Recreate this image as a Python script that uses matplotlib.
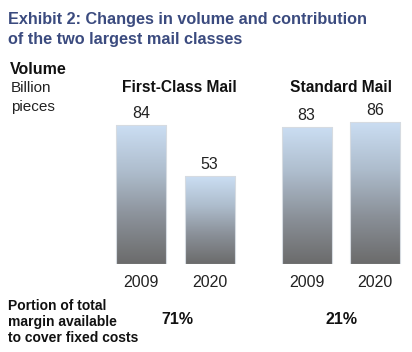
import matplotlib
matplotlib.use("Agg")
import matplotlib.pyplot as plt
import numpy as np
from matplotlib.colors import LinearSegmentedColormap

plt.rcParams['font.family'] = ['Liberation Sans', 'DejaVu Sans']

groups = ["First-Class Mail", "Standard Mail"]
years = ["2009", "2020", "2009", "2020"]
volumes = [84, 53, 83, 86]
margins = ["71%", "21%"]
positions = [0, 1, 2.416, 3.416]

W, H = 412, 352
fig = plt.figure(figsize=(W / 100, H / 100), dpi=100)

def fx(px):
    return px / W

def fy(py):
    return 1 - py / H

# axes in pixel layout
left, right = 100, 412
bottom = 264
top = bottom - 139 / 84 * 100
ax = fig.add_axes([fx(left), fy(bottom), (right - left) / W, (bottom - top) / H])
ax.axis('off')

cmap = LinearSegmentedColormap.from_list("g", ["#6b6b6b", "#8a9098", "#aebdcd", "#cbdef3"])
grad = np.linspace(0, 1, 256).reshape(-1, 1)
bw = 0.73
bars = ax.bar(positions, volumes, width=bw, color='none', edgecolor='#d6dbe1', linewidth=0.8, zorder=2)
for b, v, p, yr in zip(bars, volumes, positions, years):
    x0 = b.get_x()
    im = ax.imshow(grad, extent=[x0, x0 + bw, 0, v], origin='lower', cmap=cmap,
                   aspect='auto', zorder=1)
    im.set_clip_path(b)
    ax.text(p, v + 2.5, str(v), ha='center', va='bottom', fontsize=11.5, color='#222222')
    ax.text(p, -6.5, yr, ha='center', va='top', fontsize=11.5, color='#222222')
ax.set_xlim(-0.6, -0.6 + (right - left) / 68.5)
ax.set_ylim(0, 100)

title_color = '#3b4b7f'
fig.text(fx(8), fy(12), "Exhibit 2: Changes in volume and contribution\nof the two largest mail classes",
         ha='left', va='top', fontsize=11.7, fontweight='bold', color=title_color, linespacing=1.38)

fig.text(fx(10), fy(69), "Volume", ha='left', va='center', fontsize=11.5, fontweight='bold', color='#111111')
fig.text(fx(11), fy(88), "Billion", ha='left', va='center', fontsize=11, color='#222222')
fig.text(fx(11), fy(107), "pieces", ha='left', va='center', fontsize=11, color='#222222')

fig.text(fx(179), fy(88), groups[0], ha='center', va='center', fontsize=11.2, fontweight='bold', color='#111111')
fig.text(fx(341), fy(88), groups[1], ha='center', va='center', fontsize=11.2, fontweight='bold', color='#111111')

fig.text(fx(8), fy(322), "Portion of total\nmargin available\nto cover fixed costs", ha='left', va='center',
         fontsize=10, fontweight='bold', color='#111111', linespacing=1.15)
fig.text(fx(177), fy(319), margins[0], ha='center', va='center', fontsize=11.5, fontweight='bold', color='#111111')
fig.text(fx(342), fy(319), margins[1], ha='center', va='center', fontsize=11.5, fontweight='bold', color='#111111')

fig.savefig("out.png", dpi=100)
